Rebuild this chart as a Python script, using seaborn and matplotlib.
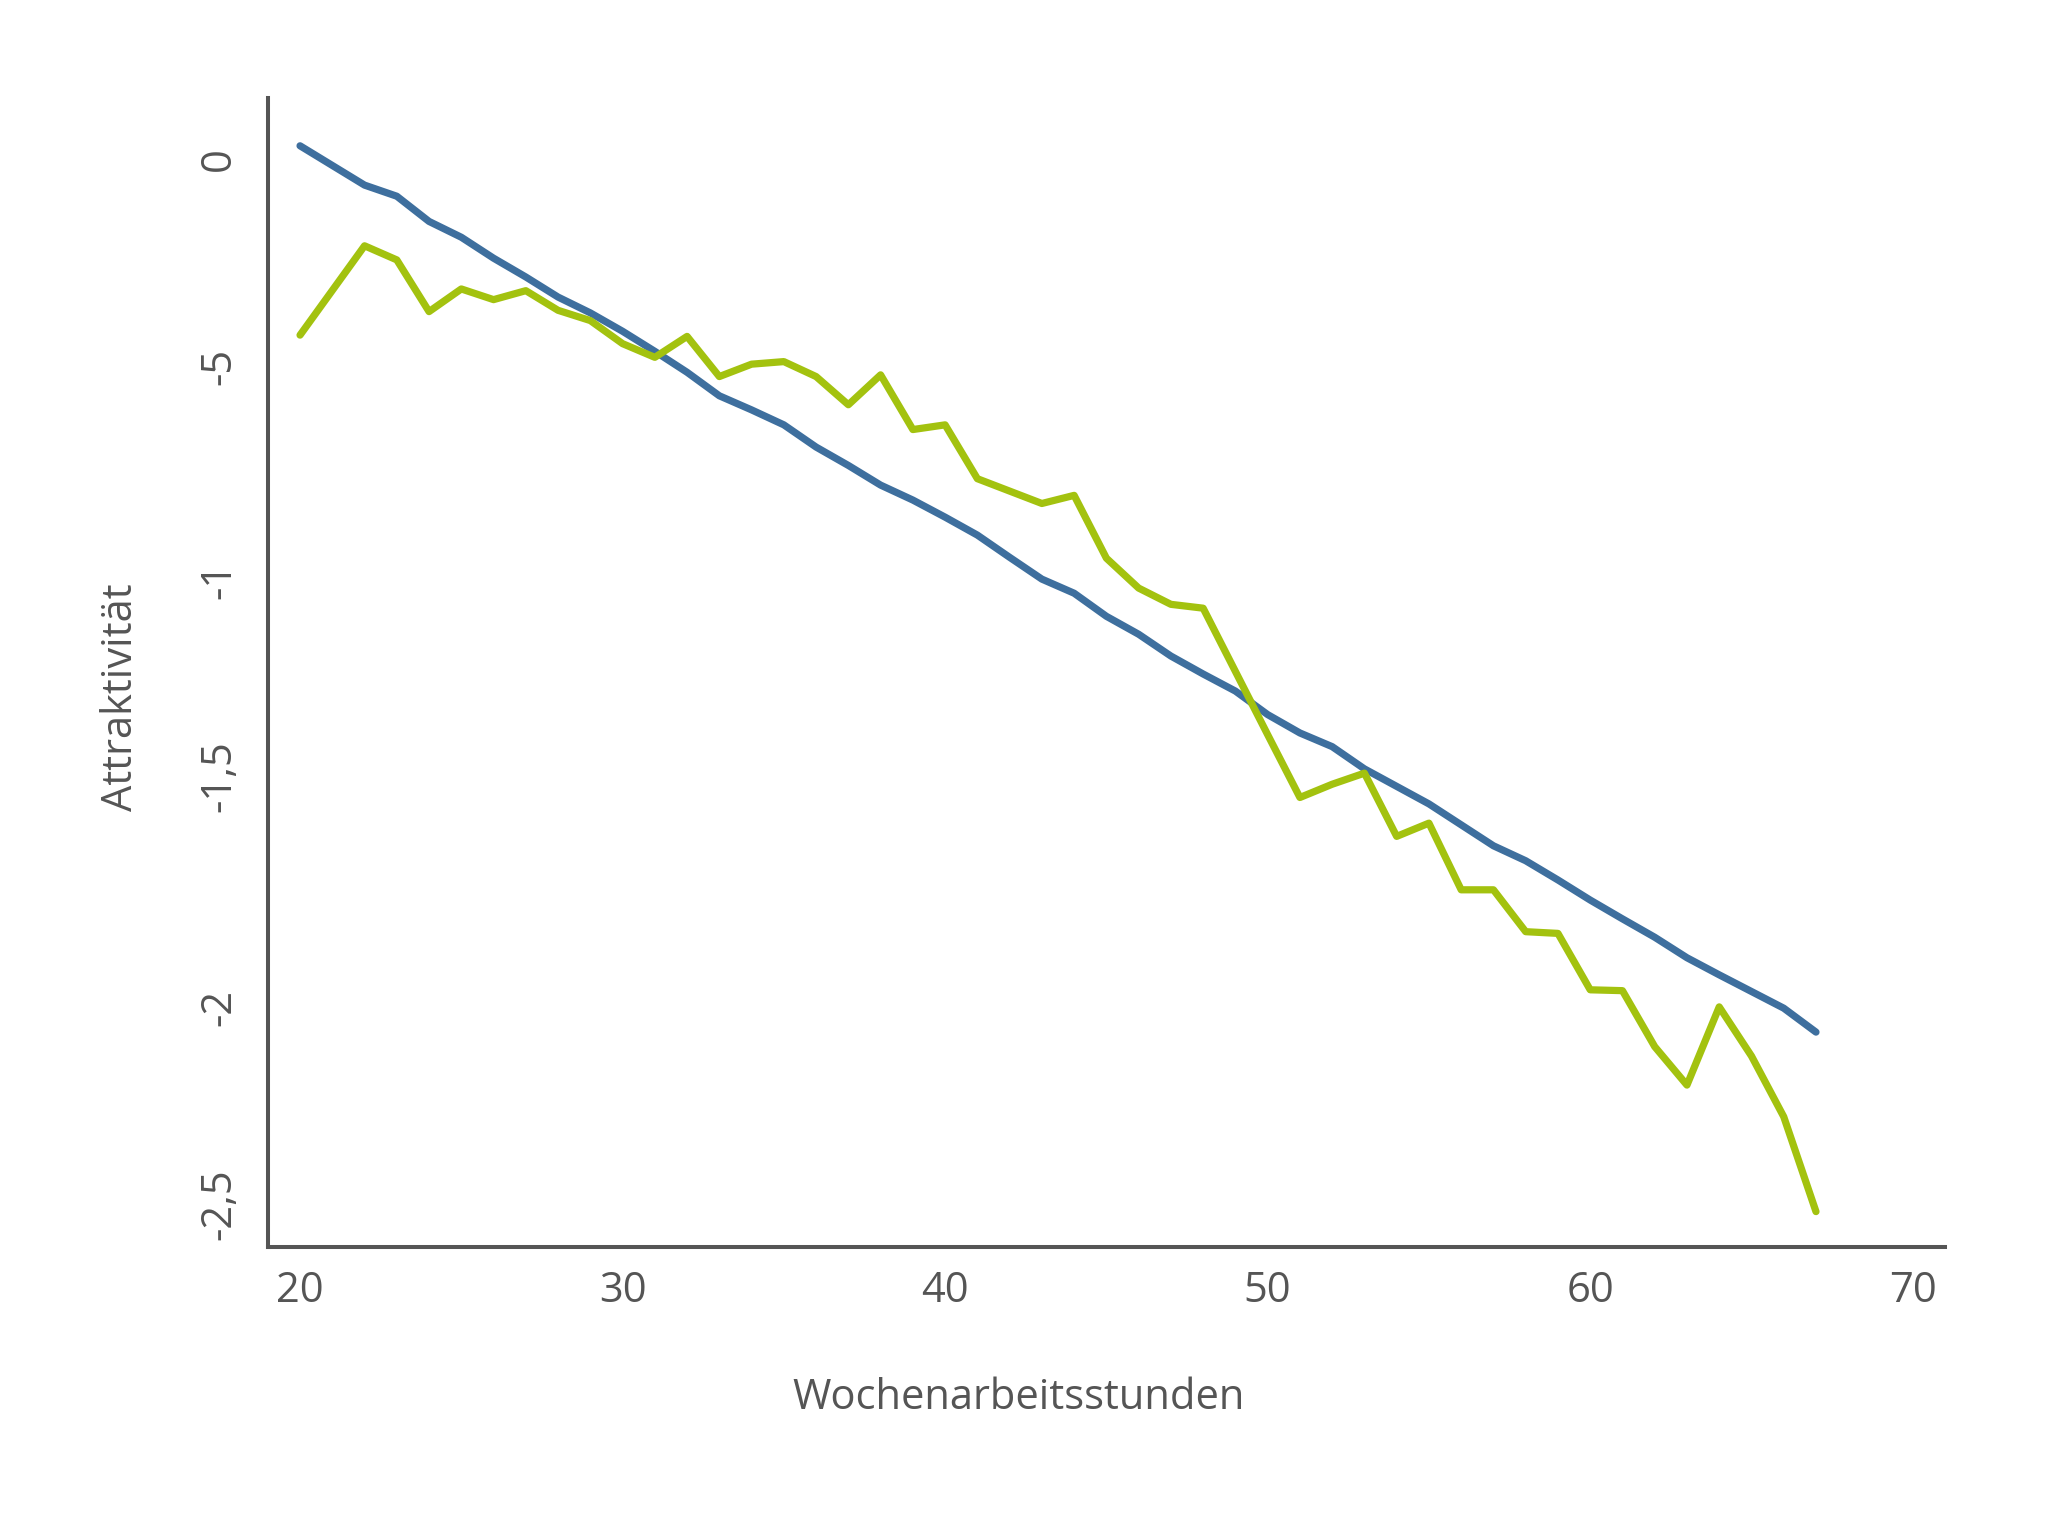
import seaborn as sns
import matplotlib.pyplot as plt
import pandas as pd

stunden = [20, 22, 23, 24, 25, 26, 27, 28, 29, 30, 31, 32, 33, 34, 35, 36, 37, 38, 39, 40,
           41, 42, 43, 44, 45, 46, 47, 48, 49, 50, 51, 52, 53, 54, 55, 56, 57, 58, 59, 60,
           61, 62, 63, 64, 65, 66, 67]
blau = [0.060, -0.032, -0.058, -0.117, -0.154, -0.203, -0.247, -0.294, -0.331, -0.374,
        -0.421, -0.470, -0.525, -0.558, -0.593, -0.645, -0.688, -0.734, -0.769, -0.809,
        -0.851, -0.903, -0.954, -0.987, -1.041, -1.083, -1.134, -1.176, -1.216, -1.271,
        -1.314, -1.346, -1.398, -1.439, -1.480, -1.529, -1.578, -1.613, -1.658, -1.705,
        -1.749, -1.792, -1.840, -1.880, -1.919, -1.958, -2.014]
gruen = [-0.383, -0.174, -0.207, -0.328, -0.275, -0.300, -0.279, -0.325, -0.349, -0.403,
         -0.435, -0.386, -0.480, -0.451, -0.445, -0.480, -0.546, -0.476, -0.604, -0.593,
         -0.719, -0.748, -0.777, -0.758, -0.905, -0.975, -1.013, -1.022, -1.170, -1.318,
         -1.465, -1.434, -1.408, -1.556, -1.525, -1.681, -1.681, -1.779, -1.783, -1.915,
         -1.917, -2.048, -2.138, -1.955, -2.070, -2.212, -2.434]

xticks = [20, 30, 40, 50, 60, 70]
yticks = [0, -0.5, -1, -1.5, -2, -2.5]
ylabels = ["0", "-5", "-1", "-1,5", "-2", "-2,5"]

sns.set_style("white")
plt.rcParams["font.family"] = ["Open Sans", "DejaVu Sans"]
grau = "#555555"

df = pd.DataFrame({
    "Wochenarbeitsstunden": stunden * 2,
    "Attraktivität": blau + gruen,
    "reihe": ["blau"] * len(blau) + ["gruen"] * len(gruen),
})

fig = plt.figure(figsize=(20.45, 15.16), dpi=100)
ax = fig.add_axes([0.1311, 0.1774, 0.8200, 0.758])

sns.lineplot(data=df, x="Wochenarbeitsstunden", y="Attraktivität", hue="reihe",
             palette={"blau": "#3e6f9e", "gruen": "#a3c20f"}, linewidth=5.2,
             legend=False, ax=ax, sort=True)

ax.set_xlim(19.01, 71.0)
ax.set_ylim(-2.517, 0.172)
ax.set_xticks(xticks)
ax.set_xticklabels([str(t) for t in xticks])
ax.set_yticks(yticks)
ax.set_yticklabels(ylabels, rotation=90, va="bottom")

for s in ["top", "right"]:
    ax.spines[s].set_visible(False)
for s in ["left", "bottom"]:
    ax.spines[s].set_color(grau)
    ax.spines[s].set_linewidth(2.9)

ax.tick_params(axis="both", length=0, labelsize=30, colors=grau)
ax.tick_params(axis="x", pad=16.5)
ax.tick_params(axis="y", pad=20)

ax.set_xlabel("Wochenarbeitsstunden", fontsize=30, color=grau)
ax.set_ylabel("Attraktivität", fontsize=30, color=grau)
ax.xaxis.label.set_va("center")
ax.yaxis.label.set_va("center")
ax.xaxis.set_label_coords(0.4476, -0.131)
ax.yaxis.set_label_coords(-0.088, 0.4787)

fig.savefig("out.png", dpi=100)
